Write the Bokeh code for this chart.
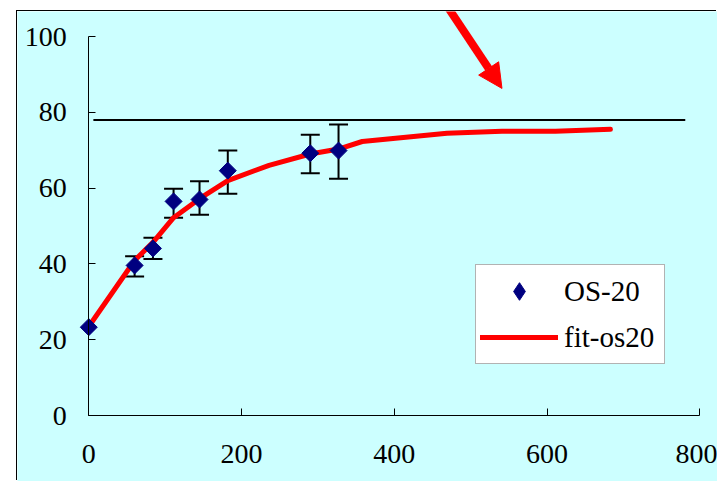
from bokeh.plotting import figure
from bokeh.models import (Range1d, FixedTicker, Legend, LegendItem, Arrow, NormalHead, LinearAxis)
from bokeh.embed import file_html
from bokeh.resources import INLINE
import math

# ---- data ----
os20_x = [0, 60, 84, 111, 145, 182, 290, 327]
os20_y = [23.3, 39.6, 44.1, 56.5, 57.0, 64.6, 69.2, 69.9]
err_x = [60, 84, 111, 145, 182, 290, 327]
err_lo = [36.7, 41.3, 52.2, 53.0, 58.5, 63.9, 62.5]
err_hi = [42.0, 46.9, 59.8, 61.8, 69.9, 74.1, 76.8]

fit_x = [0, 60, 84, 111, 145, 182, 236, 290, 327, 358, 469, 541, 611, 683]
fit_y = [23.5, 40.9, 45.7, 52.2, 57.2, 62.0, 66.0, 69.0, 70.3, 72.3, 74.5, 75.0, 75.0, 75.5]

ref_x = [6, 781]
ref_y = [78.0, 78.0]

x_ticks = [0, 200, 400, 600, 800]
y_ticks = [0, 20, 40, 60, 80, 100]

arrow_start = (460, 110.8)
arrow_end = (541, 86.3)

CYAN = "#CCFFFF"
FONT = "'Liberation Serif', 'Times New Roman', serif"

p = figure(width=700, height=470, margin=(11, 0, 0, 17),
           x_range=Range1d(-93.35, 823.2), y_range=Range1d(-17.41, 106.6),
           x_axis_location=None, y_axis_location=None,
           output_backend="svg", toolbar_location=None,
           min_border_left=0, min_border_right=0, min_border_top=0, min_border_bottom=0)
p.styles = {"box-shadow": "-1px -1px 0 0 #000000"}
p.background_fill_color = CYAN
p.border_fill_color = CYAN
p.outline_line_color = None
p.xgrid.visible = False
p.ygrid.visible = False

axis_style = dict(major_tick_in=7, major_tick_out=0, minor_tick_line_color=None,
                  axis_line_color="black", major_tick_line_color="black",
                  major_label_text_font=FONT, major_label_text_color="black",
                  major_label_text_font_size="28px")

# x axis placed at y = 0
xa = LinearAxis(fixed_location=0, ticker=FixedTicker(ticks=x_ticks),
                bounds=(min(x_ticks), max(x_ticks)), major_label_standoff=29, **axis_style)
p.add_layout(xa, "below")

# y axis placed at x = 0
ya = LinearAxis(fixed_location=0, ticker=FixedTicker(ticks=y_ticks),
                bounds=(min(y_ticks), max(y_ticks)), major_label_standoff=22, **axis_style)
p.add_layout(ya, "left")

# reference line
p.line(ref_x, ref_y, line_color="black", line_width=2)

# error bars
p.segment(x0=err_x, y0=err_lo, x1=err_x, y1=err_hi, line_color="black", line_width=2)
p.scatter(err_x, err_lo, marker="dash", size=19, line_color="black", line_width=2)
p.scatter(err_x, err_hi, marker="dash", size=19, line_color="black", line_width=2)

fit = p.line(fit_x, fit_y, line_color="red", line_width=5, line_cap="round")
pts = p.scatter(os20_x, os20_y, marker="square", size=12, angle=math.pi / 4,
                fill_color="#000080", line_color="#000080")
# same points, drawn with zero size: only gives the legend its diamond symbol
key = p.scatter(os20_x, os20_y, marker="diamond", size=0,
                fill_color="#000080", line_color="#000080")

legend = Legend(items=[LegendItem(label="OS-20", renderers=[key]),
                       LegendItem(label="fit-os20", renderers=[fit])],
                location=(458, 117), glyph_width=78, glyph_height=44, label_height=44,
                label_width=96, label_standoff=6, spacing=2, padding=4, margin=0,
                border_line_color="#666666", border_line_width=1,
                background_fill_color="white", background_fill_alpha=1,
                label_text_font=FONT, label_text_font_size="29px", label_text_color="black")
p.add_layout(legend)

p.add_layout(Arrow(x_start=arrow_start[0], y_start=arrow_start[1],
                   x_end=arrow_end[0], y_end=arrow_end[1],
                   line_color="red", line_width=8,
                   end=NormalHead(size=24, fill_color="red", line_color="red")))

open("out.html", "w").write(file_html(p, INLINE))
